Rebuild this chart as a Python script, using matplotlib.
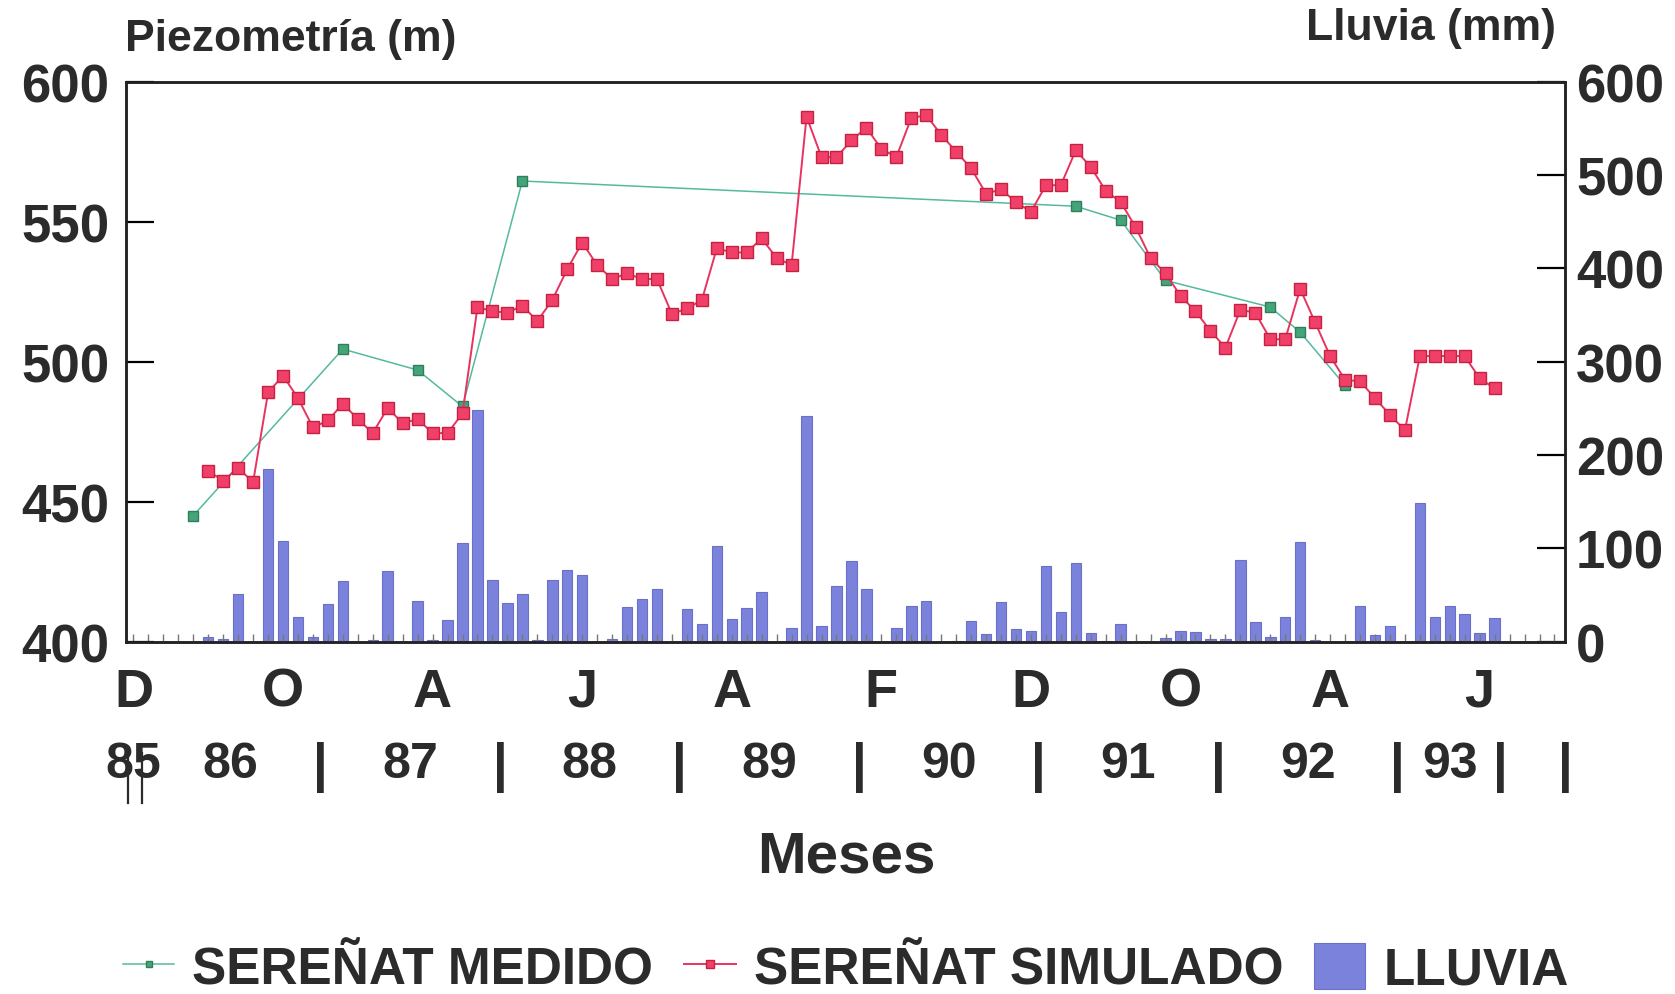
import numpy as np
import matplotlib
matplotlib.use("Agg")
import matplotlib.pyplot as plt
import matplotlib.transforms as mtransforms

plt.rcParams["font.family"] = ["Liberation Sans", "DejaVu Sans"]

# ---------- datos (mes 0 = diciembre 1985) ----------
medido_mes = [4, 14, 19, 22, 26, 63, 66, 69, 76, 78, 81]
medido_cota = [445, 504.5, 497, 484, 564.5, 555.5, 550.5, 529, 519.5, 510.5, 491.5]

simulado_mes = list(range(5, 92))
simulado_cota = [
    461, 457.5, 462, 457, 489, 495, 487, 476.5, 479, 485,
    479.5, 474.5, 483.5, 478, 479.5, 474.5, 474.5, 481.5, 519.5, 518,
    517.5, 520, 514.5, 522, 533, 542.5, 534.5, 529.5, 531.5, 529.5,
    529.5, 517, 519, 522, 540.5, 539, 539, 544, 537, 534.5,
    587.5, 573, 573, 579, 583.5, 576, 573, 587, 588, 581,
    575, 569, 560, 561.5, 557, 553.5, 563, 563, 575.5, 569.5,
    561, 557, 548, 537, 531.5, 523.5, 518, 511, 505, 518.5,
    517.5, 508, 508, 526, 514, 502, 493.5, 493, 487, 481,
    475.5, 502, 502, 502, 502, 494, 490.5,
]

lluvia_mes = list(range(96))
lluvia_mm = [
    0, 0, 0, 0, 0, 5, 3, 51, 0, 185,
    108, 26, 5, 40, 65, 0, 2, 76, 0, 44,
    2, 23, 106, 248, 66, 42, 51, 2, 66, 77,
    72, 0, 3, 37, 46, 57, 0, 35, 19, 103,
    24, 36, 53, 0, 15, 242, 17, 60, 87, 56,
    0, 15, 38, 44, 0, 1, 22, 8, 43, 14,
    11, 81, 32, 84, 9, 1, 19, 0, 0, 4,
    11, 10, 3, 3, 88, 21, 5, 26, 107, 2,
    0, 0, 38, 7, 17, 0, 149, 26, 38, 30,
    9, 25, 0, 0, 0, 0,
]

letras_mes = ["D", "O", "A", "J", "A", "F", "D", "O", "A", "J"]
anios = ["86", "87", "88", "89", "90", "91", "92"]

TXT = "#2b2b2b"

fig = plt.figure(figsize=(16.75, 9.95), dpi=100)
ax = fig.add_axes([0.0752, 0.354, 0.8591, 0.563])
ax2 = ax.twinx()

# ---------- lluvia (barras, eje derecho) ----------
barras = ax2.bar(lluvia_mes, lluvia_mm, width=0.7, color="#7b82dc",
                 edgecolor="#6a70c8", linewidth=0.8, label="LLUVIA")
ax2.set_ylim(0, 600)
ax2.set_yticks(range(0, 601, 100))

# ---------- piezometria (eje izquierdo) ----------
ax.set_zorder(ax2.get_zorder() + 1)
ax.patch.set_visible(False)
l_med, = ax.plot(medido_mes, medido_cota, color="#55b9a0", lw=1.1,
                 marker="s", ms=7.5, mfc="#45a479", mec="#2f7f5a",
                 label="SEREÑAT MEDIDO")
l_sim, = ax.plot(simulado_mes, simulado_cota, color="#e8335f", lw=1.4,
                 marker="s", ms=8, mfc="#f0406a", mec="#c8203f",
                 label="SEREÑAT SIMULADO")
ax.set_ylim(400, 600)
ax.set_yticks(range(400, 601, 50))
ax.set_xlim(-0.5, 95.7)

# meses: tick en cada mes, letra cada 10 meses
ax.set_xticks(lluvia_mes)
etiquetas = ["" for _ in lluvia_mes]
for i, letra in enumerate(letras_mes):
    etiquetas[i * 10] = letra
ax.set_xticklabels(etiquetas)
ax.tick_params(axis="x", direction="in", length=6, width=1, color="#777777",
               labelsize=39, labelcolor=TXT, pad=18)
for lab in ax.get_xticklabels():
    lab.set_fontweight("bold")

ax.tick_params(axis="y", direction="in", length=20, width=1.6,
               labelsize=38, labelcolor=TXT, pad=12)
ax2.tick_params(axis="y", direction="in", length=20, width=1.6,
                labelsize=38, labelcolor=TXT, pad=8)
for lab in ax.get_yticklabels() + ax2.get_yticklabels():
    lab.set_fontweight("bold")

for a in (ax, ax2):
    for s in a.spines.values():
        s.set_linewidth(1.8)
        s.set_color("#222222")

# ---------- fila de anios ----------
trans = mtransforms.blended_transform_factory(ax.transData, ax.transAxes)
y_anio = -0.218
ax.text(0, y_anio, "85", transform=trans, ha="center", va="center",
        fontsize=36, weight="bold", color=TXT, clip_on=False)
# trazos que cruzan el "85" en el original
for sx in (-0.35, 0.55):
    ax.plot([sx, sx], [y_anio - 0.07, y_anio + 0.02], transform=trans,
            color=TXT, lw=1.6, clip_on=False)
for k, a in enumerate(anios):
    ax.text(6.5 + 12 * k, y_anio, a, transform=trans, ha="center",
            va="center", fontsize=36, weight="bold", color=TXT, clip_on=False)
ax.text(88, y_anio, "93", transform=trans, ha="center", va="center",
        fontsize=36, weight="bold", color=TXT, clip_on=False)
separadores = [12.5 + 12 * k for k in range(7)] + [91.4, 95.7]
for sx in separadores:
    ax.text(sx, y_anio - 0.005, "|", transform=trans, ha="center",
            va="center", fontsize=38, weight="bold", color=TXT, clip_on=False)

# ---------- textos ----------
fig.text(0.0746, 0.960, "Piezometría (m)", fontsize=32, weight="bold",
         color=TXT, ha="left", va="center")
fig.text(0.929, 0.971, "Lluvia (mm)", fontsize=32, weight="bold",
         color=TXT, ha="right", va="center")
fig.text(0.505, 0.138, "Meses", fontsize=42, weight="bold", color=TXT,
         ha="center", va="center")

fig.legend(handles=[l_med, l_sim, barras],
           labels=["SEREÑAT MEDIDO", "SEREÑAT SIMULADO", "LLUVIA"],
           loc="center", bbox_to_anchor=(0.505, 0.025), ncol=3, frameon=False,
           prop={"size": 37, "weight": "bold"}, labelcolor=TXT,
           handlelength=1.0, handleheight=1.0, handletextpad=0.35,
           columnspacing=0.6, markerscale=0.65)

fig.savefig("out.png", dpi=100)
